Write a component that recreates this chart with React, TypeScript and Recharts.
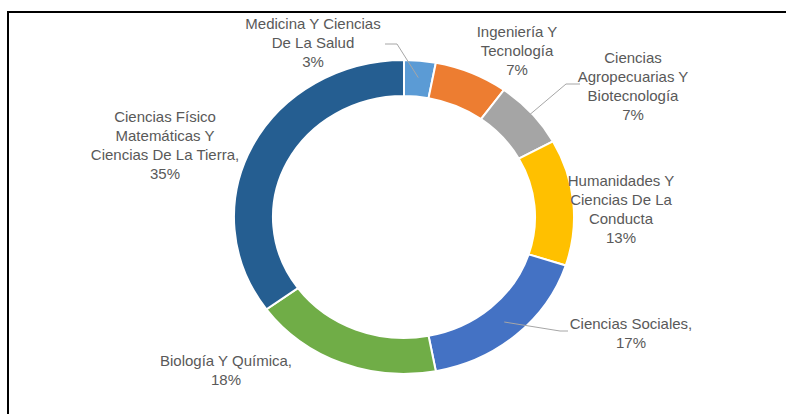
import React from "react";
import { PieChart, Pie, Cell } from "recharts";

// Área del conocimiento y porcentaje de investigadores
const categories = [
  "Medicina Y Ciencias De La Salud",
  "Ingeniería Y Tecnología",
  "Ciencias Agropecuarias Y Biotecnología",
  "Humanidades Y Ciencias De La Conducta",
  "Ciencias Sociales",
  "Biología Y Química",
  "Ciencias Físico Matemáticas Y Ciencias De La Tierra",
];
const values = [3, 7, 7, 13, 17, 18, 35];
const labelLines = [
  ["Medicina Y Ciencias", "De La Salud"],
  ["Ingeniería Y", "Tecnología"],
  ["Ciencias", "Agropecuarias Y", "Biotecnología"],
  ["Humanidades Y", "Ciencias De La", "Conducta"],
  ["Ciencias Sociales,"],
  ["Biología Y Química,"],
  ["Ciencias Físico", "Matemáticas Y", "Ciencias De La Tierra,"],
];
const colors = ["#5B9BD5", "#ED7D31", "#A5A5A5", "#FFC000", "#4472C4", "#70AD47", "#255E91"];

const data = categories.map((name, i) => ({ name, value: values[i] }));

const CX = 404;
const CY = 217;
const SX = 1.083; // the ring is a bit wider than tall
const RAD = Math.PI / 180;
const FONT = "'Liberation Sans Narrow', 'Liberation Sans', sans-serif";
const LINE_H = 19;

// label block centre relative to the pie centre, plus optional leader line
const labelLayout = [
  { dx: -91, dy: -175, leader: [[385, 44], [397, 44]], r: 140 },
  { dx: 113, dy: -167 },
  { dx: 229, dy: -131, leader: [[580, 84], [566, 84]], r: 155 },
  { dx: 217, dy: -8 },
  { dx: 227, dy: 116, leader: [[568, 331], [560, 331]], r: 140 },
  { dx: -178, dy: 153 },
  { dx: -239, dy: -72 },
];

const pt = (cx: number, cy: number, r: number, a: number) => [
  cx + r * SX * Math.cos(a * RAD),
  cy - r * Math.sin(a * RAD),
];

const EllipseSector = (props: any) => {
  const { cx, cy, innerRadius, outerRadius, startAngle, endAngle, fill } = props;
  const [x1, y1] = pt(cx, cy, outerRadius, startAngle);
  const [x2, y2] = pt(cx, cy, outerRadius, endAngle);
  const [x3, y3] = pt(cx, cy, innerRadius, endAngle);
  const [x4, y4] = pt(cx, cy, innerRadius, startAngle);
  const large = Math.abs(startAngle - endAngle) > 180 ? 1 : 0;
  const sweep = startAngle > endAngle ? 1 : 0;
  const d =
    `M${x1},${y1} A${outerRadius * SX},${outerRadius} 0 ${large} ${sweep} ${x2},${y2} ` +
    `L${x3},${y3} A${innerRadius * SX},${innerRadius} 0 ${large} ${1 - sweep} ${x4},${y4} Z`;
  return <path d={d} fill={fill} stroke="#fff" strokeWidth={2} />;
};

const renderLabel = (props: any) => {
  const { index, cx, cy, midAngle, percent } = props;
  const lay = labelLayout[index];
  const lines = [...labelLines[index], `${Math.round(percent * 100)}%`];
  const x = cx + lay.dx;
  const y0 = cy + lay.dy - ((lines.length - 1) * LINE_H) / 2;
  let leader = null;
  if (lay.leader) {
    const [ax, ay] = pt(cx, cy, lay.r as number, midAngle);
    const pts = [...lay.leader, [ax, ay]].map((p) => p.join(",")).join(" ");
    leader = <polyline points={pts} fill="none" stroke="#A6A6A6" strokeWidth={1} />;
  }
  return (
    <g>
      {leader}
      <text x={x} y={y0} textAnchor="middle" fill="#595959" fontFamily={FONT} fontSize={15}>
        {lines.map((l, i) => (
          <tspan key={i} x={x} y={y0 + i * LINE_H} dominantBaseline="central">
            {l}
          </tspan>
        ))}
      </text>
    </g>
  );
};

export default function App() {
  return (
    <div
      style={{
        position: "fixed",
        left: 0,
        top: 0,
        width: 786,
        height: 414,
        overflow: "hidden",
        background: "#fff",
      }}
    >
      <div
        style={{
          position: "absolute",
          left: 7,
          top: 11,
          width: 900,
          height: 500,
          border: "2px solid #000",
        }}
      />
      <div style={{ position: "absolute", left: 0, top: 0 }}>
        <PieChart width={786} height={414} margin={{ top: 0, right: 0, bottom: 0, left: 0 }}>
          <Pie
            data={data}
            dataKey="value"
            nameKey="name"
            cx={CX}
            cy={CY}
            innerRadius={121}
            outerRadius={157}
            startAngle={90}
            endAngle={-270}
            stroke="#fff"
            strokeWidth={2}
            shape={EllipseSector}
            activeShape={EllipseSector}
            inactiveShape={EllipseSector}
            label={renderLabel}
            labelLine={false}
            isAnimationActive={false}
          >
            {data.map((d, i) => (
              <Cell key={d.name} fill={colors[i]} />
            ))}
          </Pie>
        </PieChart>
      </div>
    </div>
  );
}
